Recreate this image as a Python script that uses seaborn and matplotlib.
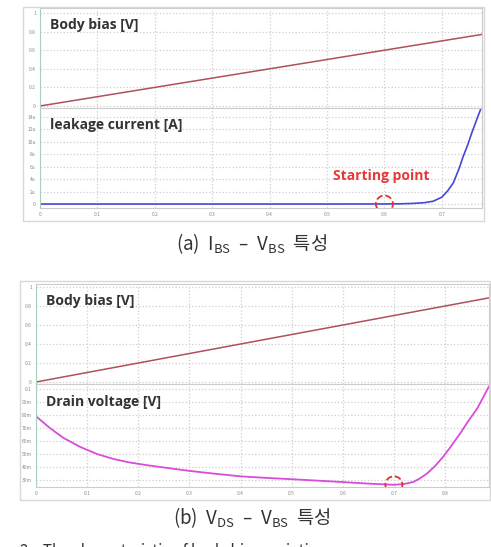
import numpy as np
import pandas as pd
import matplotlib
matplotlib.use("Agg")
import matplotlib.pyplot as plt
from matplotlib.patches import Rectangle
import seaborn as sns

# (a) leakage current vs body bias
vbs_a = [0.0, 0.1, 0.2, 0.3, 0.4, 0.5, 0.6, 0.63, 0.65, 0.67, 0.685, 0.70,
         0.71, 0.72, 0.73, 0.737, 0.745, 0.752, 0.76, 0.767, 0.77]
leak_a = [0, 0, 0, 0, 0, 0, 0.01, 0.04, 0.1, 0.22, 0.45, 1.1,
          2.1, 3.4, 5.7, 7.6, 9.5, 11.4, 13.4, 15.1, 15.9]  # uA
bias_a_x = [0.0, 0.77]

# (b) drain voltage vs body bias
vbs_b = [0.0, 0.027, 0.053, 0.086, 0.119, 0.151, 0.184, 0.22, 0.25, 0.3, 0.35,
         0.4, 0.45, 0.5, 0.55, 0.6, 0.65, 0.7, 0.72, 0.738, 0.75, 0.765, 0.78,
         0.796, 0.81, 0.83, 0.845, 0.863, 0.886]
vds_b = [79, 70, 62.5, 55.5, 50, 46.2, 43.4, 41.2, 39.6, 37, 34.8,
         32.8, 31.6, 30.6, 29.5, 28.4, 27.2, 26.3, 26.9, 28.5, 31, 35, 40.5,
         47.7, 55, 66, 75, 85, 102]  # mV
bias_b_x = [0.0, 0.886]

bias_ticks = [0, 0.2, 0.4, 0.6, 0.8, 1]
bias_labels = ["0", "0.2", "0.4", "0.6", "0.8", "1"]
leak_ticks = [0, 2, 4, 6, 8, 10, 12, 14]
leak_labels = ["0", "2u", "4u", "6u", "8u", "10u", "12u", "14u"]
vds_ticks = [0.03, 0.04, 0.05, 0.06, 0.07, 0.08, 0.09, 0.1]
vds_labels = ["30m", "40m", "50m", "60m", "70m", "80m", "90m", "0.1"]
xa_ticks = [0, 0.1, 0.2, 0.3, 0.4, 0.5, 0.6, 0.7]
xb_ticks = [0, 0.1, 0.2, 0.3, 0.4, 0.5, 0.6, 0.7, 0.8]

sns.set_style("white")
plt.rcParams['font.family'] = ['Noto Sans CJK KR', 'DejaVu Sans']

W, H = 491, 547
fig = plt.figure(figsize=(W / 100, H / 100), dpi=100)


def box(x0, y0, x1, y1):
    return [x0 / W, 1 - y1 / H, (x1 - x0) / W, (y1 - y0) / H]


def style(ax, xlim, ylim, xticks, yticks, ylabels, show_x):
    ax.set_xlim(*xlim)
    ax.set_ylim(*ylim)
    ax.set_xticks(xticks)
    ax.set_yticks(yticks)
    ax.set_yticklabels(ylabels)
    if show_x:
        ax.set_xticklabels([f"{t:g}" for t in xticks])
    else:
        ax.set_xticklabels([])
    ax.tick_params(labelsize=3.5, labelcolor="#888888", length=1.5,
                   color="#bbbbbb", pad=1.5)
    ax.grid(True, color="#cfcfcf", linestyle=":", linewidth=0.9)
    for s in ax.spines.values():
        s.set_color("#cccccc")
        s.set_linewidth(0.8)
    ax.spines["left"].set_color("#a8d0bc")
    ax.set_xlabel("")
    ax.set_ylabel("")


def label(ax, txt):
    ax.text(0.022, 0.83, txt, transform=ax.transAxes, fontsize=10,
            fontweight="bold", color="#333333", family=["Open Sans", "DejaVu Sans"],
            va="center", ha="left")


# frames around each figure
fig.patches.append(Rectangle((23 / W, 1 - 221 / H), 461 / W, 214 / H,
                             transform=fig.transFigure, fill=False,
                             edgecolor="#d8d8d8", linewidth=1.0))
fig.patches.append(Rectangle((20 / W, 1 - 500 / H), 470 / W, 219 / H,
                             transform=fig.transFigure, fill=False,
                             edgecolor="#d8d8d8", linewidth=1.0))

# ---- (a) ----
a1 = fig.add_axes(box(40, 8, 482, 108))
sns.lineplot(x=bias_a_x, y=bias_a_x, ax=a1, color="#b0505a", linewidth=1.1)
style(a1, (0, 0.77), (-0.0215, 1.054), xa_ticks, bias_ticks, bias_labels, False)
label(a1, "Body bias [V]")

a2 = fig.add_axes(box(40, 108, 482, 208))
sns.lineplot(x=vbs_a, y=leak_a, ax=a2, color="#4646dc", linewidth=1.2)
style(a2, (0, 0.77), (-0.64, 15.46), xa_ticks, leak_ticks, leak_labels, True)
label(a2, "leakage current [A]")
a2.scatter([0.6], [0], s=150, facecolors="none", edgecolors="#e03030",
           linestyles="--", linewidths=1.3, zorder=5)
a2.text(0.595, 4.5, "Starting point", color="#e83838", fontsize=10,
        fontweight="bold", family=["Open Sans", "DejaVu Sans"],
        ha="center", va="center")

fig.text(252 / W, 1 - 244 / H,
         r"(a)  I$_{\mathregular{BS}}$  –  V$_{\mathregular{BS}}$  특성",
         ha="center", va="center", fontsize=13.5, color="#333333")

# ---- (b) ----
b1 = fig.add_axes(box(36, 284, 489, 384))
sns.lineplot(x=bias_b_x, y=bias_b_x, ax=b1, color="#b0505a", linewidth=1.1)
style(b1, (0, 0.886), (-0.021, 1.032), xb_ticks, bias_ticks, bias_labels, False)
label(b1, "Body bias [V]")

b2 = fig.add_axes(box(36, 384, 489, 487))
sns.lineplot(x=vbs_b, y=np.array(vds_b) / 1000, ax=b2, color="#d84cd8", linewidth=1.3)
style(b2, (0, 0.886), (0.0246, 0.1038), xb_ticks, vds_ticks, vds_labels, True)
label(b2, "Drain voltage [V]")
b2.scatter([0.7], [0.0263], s=150, facecolors="none", edgecolors="#e03030",
           linestyles="--", linewidths=1.3, zorder=5)

fig.text(252 / W, 1 - 518 / H,
         r"(b)  V$_{\mathregular{DS}}$  –  V$_{\mathregular{BS}}$  특성",
         ha="center", va="center", fontsize=13.5, color="#333333")

fig.text(20 / W, 1 - 552 / H, "2.   The characteristic of body bias variation",
         ha="left", va="center", fontsize=11, color="#333333")

plt.savefig("out.png", dpi=100)
plt.close()
